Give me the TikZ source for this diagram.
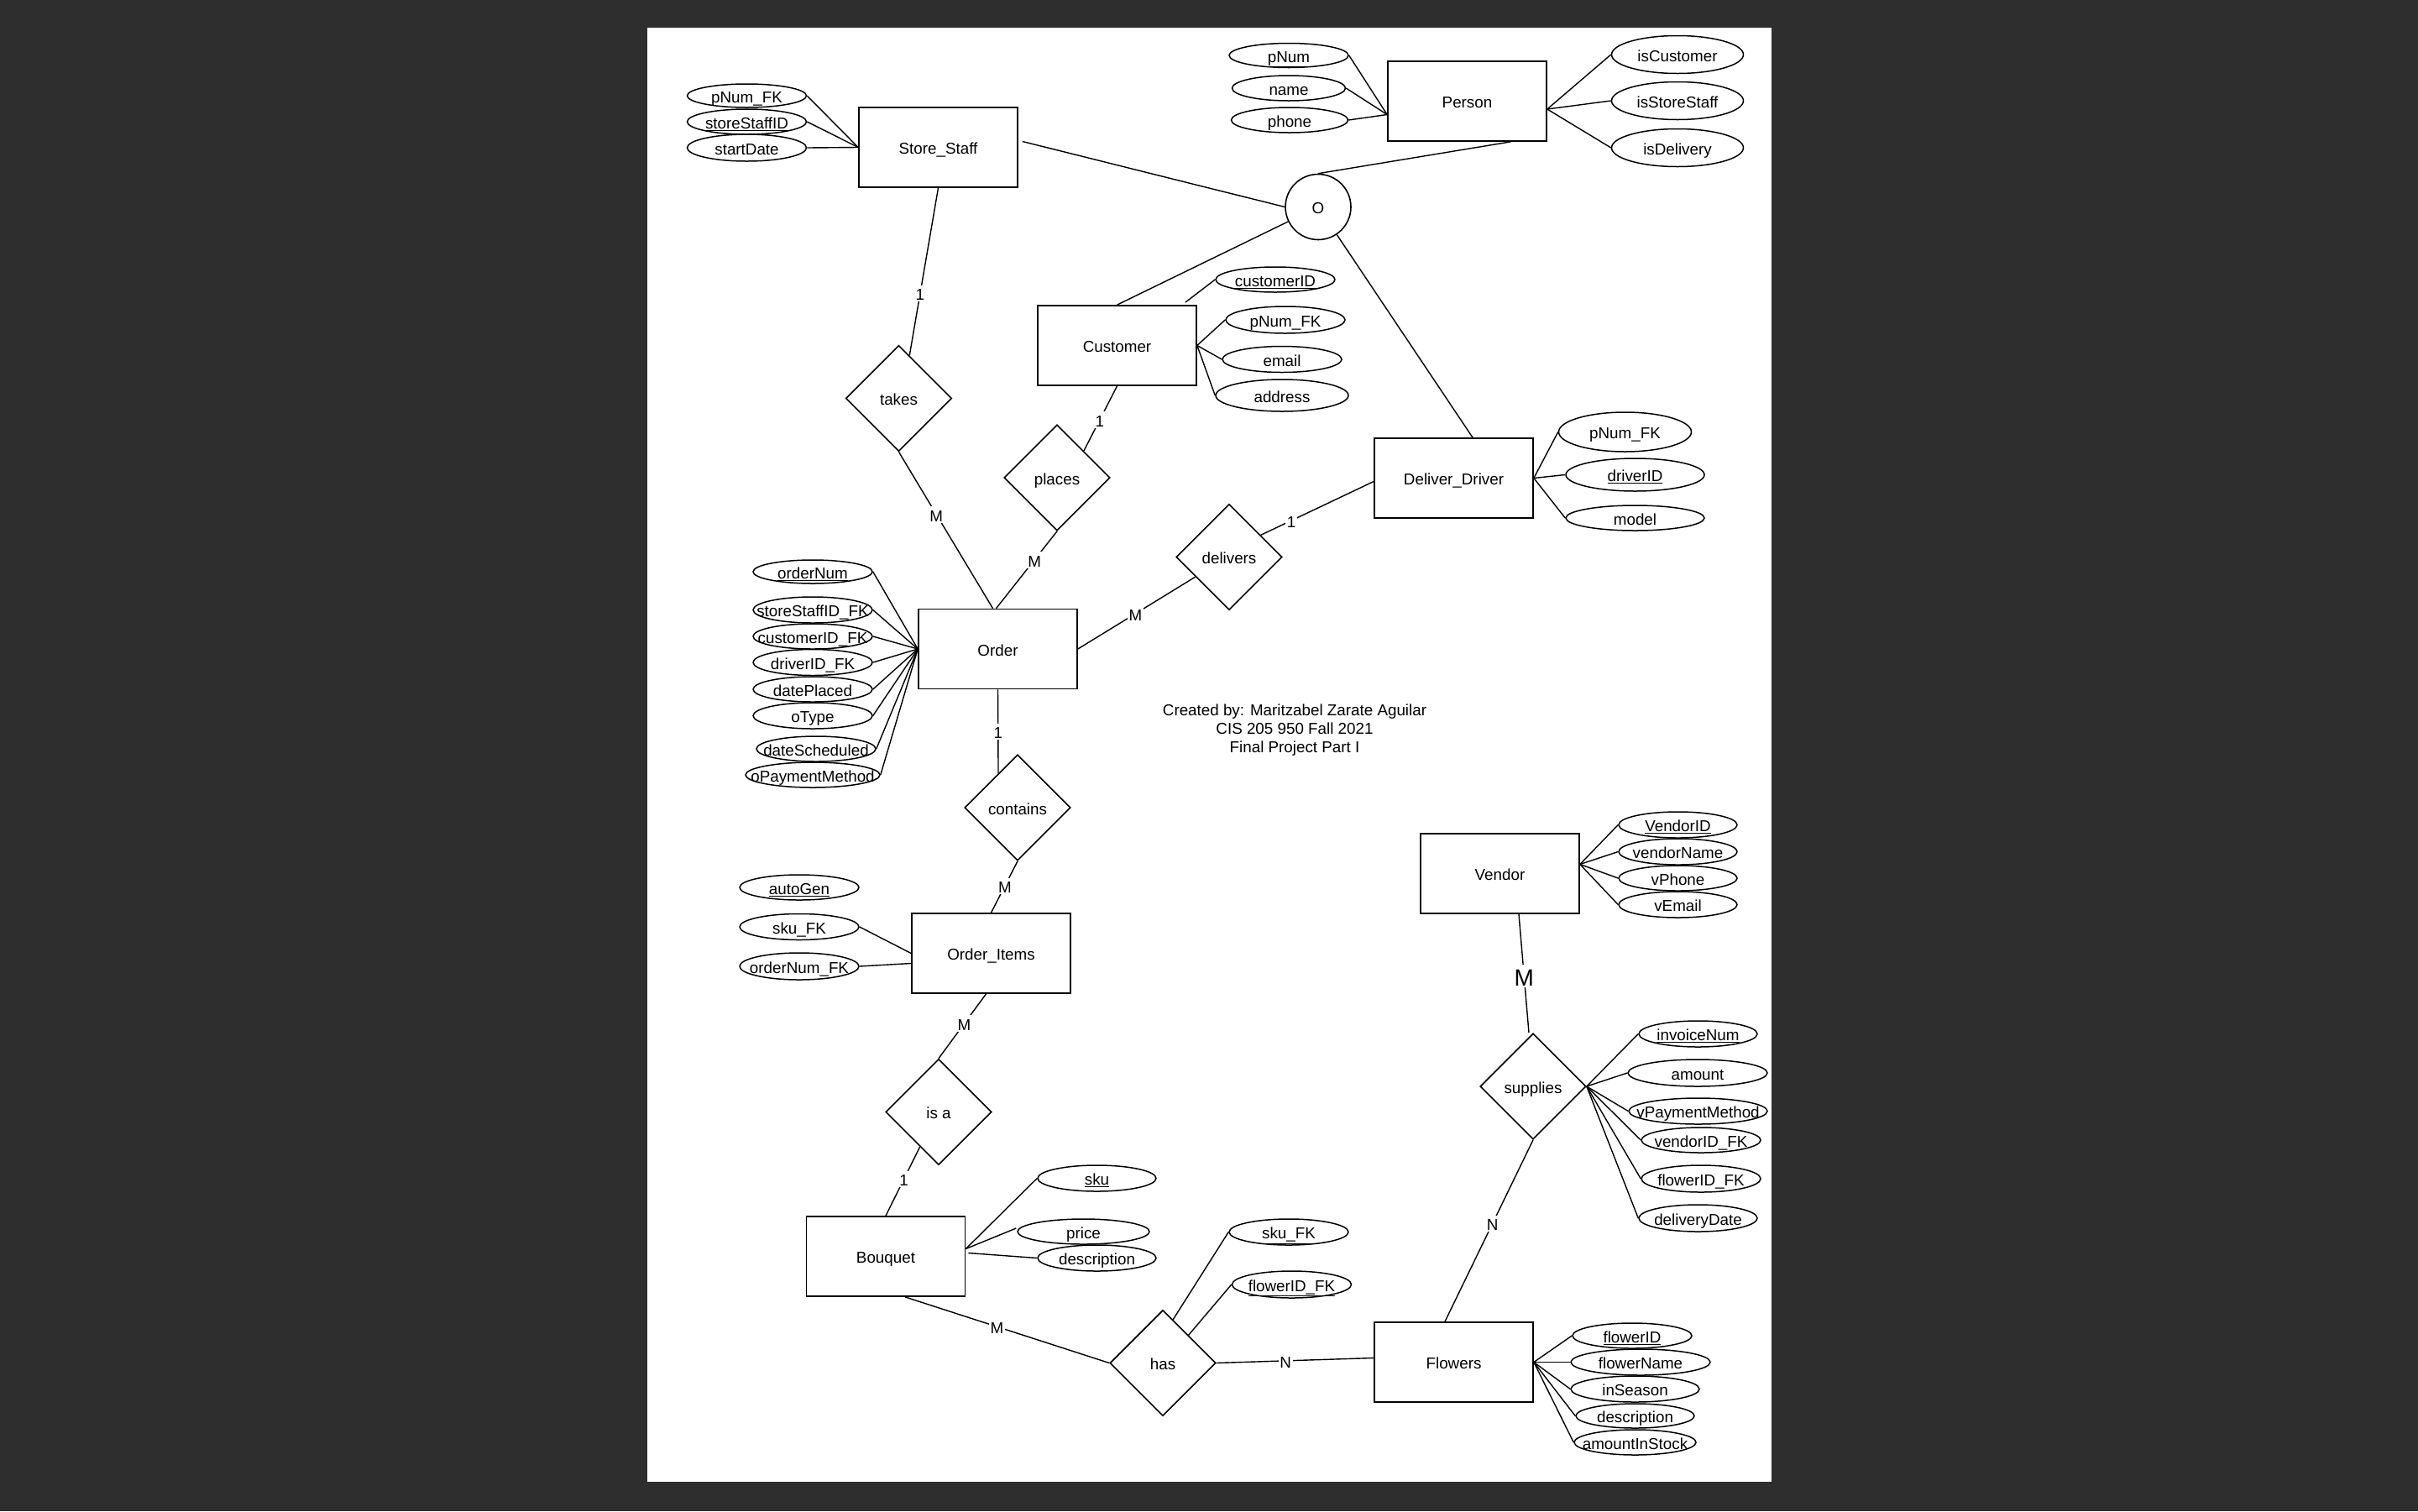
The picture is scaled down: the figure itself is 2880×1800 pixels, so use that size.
\documentclass[tikz,border=0pt]{standalone}
\usepackage{fontspec}
\setmainfont{Liberation Sans}
\usetikzlibrary{shapes.geometric,calc}
\definecolor{bgdark}{RGB}{46,46,46}
\tikzset{
  textbox/.style={text height=16.5pt, text depth=0pt},
  entity/.style={rectangle, draw, line width=1.7pt, minimum width=189pt, minimum height=95pt, inner sep=0pt, textbox},
  attr/.style={ellipse, draw, line width=1.5pt, inner sep=0pt, minimum width=142pt, minimum height=30pt, label={[textbox]center:#1}},
  rel/.style={diamond, draw, line width=1.6pt, inner sep=0pt, minimum width=126pt, minimum height=126pt, textbox},
  link/.style={line width=1.4pt},
  card/.style={fill=white, inner sep=1.5pt, textbox},
}
\begin{document}
\begin{tikzpicture}[x=1pt, y=-1pt, font=\fontsize{18.8}{22}\selectfont]
% canvas and page
\fill[bgdark] (0,0) rectangle (2880,1800);
\fill[white] (771,33) rectangle (2110,1765);

% ---------- entities ----------
\node[entity] (ss)      at (1117.5,175.5) {Store\_Staff};
\node[entity] (person)  at (1747.5,120.5) {Person};
\node[entity] (cust)    at (1330.5,411.5) {Customer};
\node[entity] (dd)      at (1731.5,569.5) {Deliver\_Driver};
\node[entity] (order)   at (1188.5,773)   {Order};
\node[entity] (oi)      at (1180.5,1135.5) {Order\_Items};
\node[entity] (bouquet) at (1055,1496.5)  {Bouquet};
\node[entity] (flowers) at (1731.5,1622.5) {Flowers};
\node[entity] (vendor)  at (1786.5,1040.5) {Vendor};

% overlapping specialisation circle
\node[circle, draw, line width=1.6pt, minimum size=78pt, inner sep=0pt, textbox] (ovl) at (1570,246.5) {O};

% ---------- relationships ----------
\node[rel] (takes)    at (1070.5,474.5) {takes};
\node[rel] (places)   at (1259,569)     {places};
\node[rel] (delivers) at (1464,663.5)   {delivers};
\node[rel] (contains) at (1212,962)     {contains};
\node[rel] (isa)      at (1118,1324.5)  {is a};
\node[rel] (has)      at (1385,1623.5)  {has};
\node[rel] (supplies) at (1826,1294)    {supplies};

% ---------- attributes ----------
% Store_Staff
\node[attr={pNum\_FK}, minimum height=28pt] (ssPnum) at (889.5,114) {};
\node[attr={\underline{storeStaffID}}] (ssId) at (889.5,145) {};
\node[attr={startDate}, minimum height=32pt] (ssStart) at (889.5,176) {};
% Person
\node[attr={\underline{pNum}}, minimum height=29pt] (pNum) at (1535,66) {};
\node[attr={name}, minimum width=135pt] (pName) at (1535,105) {};
\node[attr={phone}, minimum width=139pt] (pPhone) at (1536,143) {};
\node[attr={isCustomer}, minimum width=157pt, minimum height=45pt] (isCust) at (1998,65) {};
\node[attr={isStoreStaff}, minimum width=157pt, minimum height=45pt] (isStaff) at (1998,120) {};
\node[attr={isDelivery}, minimum width=157pt, minimum height=45pt] (isDel) at (1998,176) {};
% Customer
\node[attr={\underline{customerID}}] (custId) at (1519,333) {};
\node[attr={pNum\_FK}, minimum height=32pt] (custPnum) at (1531,381) {};
\node[attr={email}, minimum height=31pt] (custEmail) at (1527,428) {};
\node[attr={address}, minimum width=158pt, minimum height=38pt] (custAddr) at (1527,471) {};
% Deliver_Driver
\node[attr={pNum\_FK}, minimum width=158pt, minimum height=47pt] (ddPnum) at (1935.5,514.5) {};
\node[attr={\underline{driverID}}, minimum width=165pt, minimum height=39pt] (ddId) at (1947.5,565.5) {};
\node[attr={model}, minimum width=165pt] (ddModel) at (1947.5,617) {};
% Order
\node[attr={\underline{orderNum}}, minimum height=28pt] (oNum) at (968,681) {};
\node[attr={storeStaffID\_FK}, minimum height=31pt] (oStaff) at (968,726.5) {};
\node[attr={customerID\_FK}] (oCust) at (968,758) {};
\node[attr={driverID\_FK}, minimum height=31pt] (oDriver) at (968,789) {};
\node[attr={datePlaced}] (oPlaced) at (968,821) {};
\node[attr={oType}, minimum height=31pt] (oType) at (968,852.5) {};
\node[attr={dateScheduled}] (oSched) at (972,892) {};
\node[attr={oPaymentMethod}, minimum width=160pt] (oPay) at (968,923) {};
% Order_Items
\node[attr={\underline{autoGen}}] (oiAuto) at (952,1057) {};
\node[attr={sku\_FK}, minimum height=31pt] (oiSku) at (952,1104) {};
\node[attr={orderNum\_FK}, minimum height=32pt] (oiOrder) at (952,1151) {};
% Bouquet
\node[attr={\underline{sku}}, minimum width=141pt, minimum height=31pt] (bSku) at (1306.5,1403.5) {};
\node[attr={price}, minimum width=157pt] (bPrice) at (1290.5,1467) {};
\node[attr={description}, minimum width=141pt, minimum height=31pt] (bDesc) at (1306.5,1498.5) {};
% has
\node[attr={\underline{sku\_FK}}, minimum height=31pt] (hSku) at (1535,1467.5) {};
\node[attr={\underline{flowerID\_FK}}, minimum height=32pt] (hFlower) at (1538.5,1530) {};
% Flowers
\node[attr={\underline{flowerID}}] (fId) at (1944,1591) {};
\node[attr={flowerName}, minimum width=166pt, minimum height=31pt] (fName) at (1954,1622.5) {};
\node[attr={inSeason}, minimum width=153pt, minimum height=31pt] (fSeason) at (1947.5,1654.5) {};
\node[attr={description}, minimum width=141pt, minimum height=29pt] (fDesc) at (1947.5,1686.5) {};
\node[attr={amountInStock}, minimum width=145pt] (fStock) at (1947.5,1718) {};
% Vendor
\node[attr={\underline{VendorID}}, minimum width=141pt, minimum height=31pt] (vId) at (1998.5,982.5) {};
\node[attr={vendorName}, minimum width=141pt, minimum height=31pt] (vName) at (1998.5,1014.5) {};
\node[attr={vPhone}, minimum width=141pt] (vPhone) at (1998.5,1046) {};
\node[attr={vEmail}, minimum width=141pt, minimum height=31pt] (vEmail) at (1998.5,1077.5) {};
% supplies
\node[attr={\underline{invoiceNum}}, minimum width=141pt, minimum height=31pt] (sInv) at (2022.5,1231.5) {};
\node[attr={amount}, minimum width=166pt, minimum height=32pt] (sAmt) at (2022,1278) {};
\node[attr={vPaymentMethod}, minimum width=165pt, minimum height=31pt] (sPay) at (2022.5,1323.5) {};
\node[attr={vendorID\_FK}] (sVendor) at (2026,1358) {};
\node[attr={flowerID\_FK}, minimum height=32pt] (sFlower) at (2026,1404) {};
\node[attr={deliveryDate}, minimum width=141pt, minimum height=32pt] (sDate) at (2022.5,1451) {};

% ---------- attribute links ----------
\foreach \a in {ssPnum,ssId,ssStart} \draw[link] (\a.east) -- (ss.west);
\foreach \a in {pNum,pName,pPhone} \draw[link] (\a.east) -- ($(person.west)+(0,16)$);
\foreach \a in {isCust,isStaff,isDel} \draw[link] (\a.west) -- ($(person.east)+(0,9.5)$);
\draw[link] (custId.west) -- ($(cust.north east)+(-14,-3)$);
\foreach \a in {custPnum,custEmail,custAddr} \draw[link] (\a.west) -- (cust.east);
\foreach \a in {ddPnum,ddId,ddModel} \draw[link] (\a.west) -- (dd.east);
\foreach \a in {oNum,oStaff,oCust,oDriver,oPlaced,oType,oSched,oPay} \draw[link] (\a.east) -- (order.west);
\draw[link] (oiSku.east) -- (oi.west);
\draw[link] (oiOrder.east) -- ($(oi.west)+(0,12)$);
\draw[link] (bSku.west) -- ($(bouquet.east)+(0,-9)$);
\draw[link] ($(bPrice.west)+(-1,-4)$) -- ($(bouquet.east)+(0,-9)$);
\draw[link] (bDesc.west) -- ($(bouquet.east)+(3,-4)$);
\draw[link] (hSku.west) -- ($(has.north)!0.19!(has.east)$);
\draw[link] (hFlower.west) -- ($(has.north)!0.48!(has.east)$);
\foreach \a in {fId,fName,fSeason,fDesc,fStock} \draw[link] (\a.west) -- (flowers.east);
\foreach \a in {vId,vName,vPhone,vEmail} \draw[link] (\a.west) -- ($(vendor.east)+(0,-11)$);
\foreach \a in {sInv,sAmt,sPay,sVendor,sFlower,sDate} \draw[link] (\a.west) -- (supplies.east);

% ---------- specialisation ----------
\draw[link] ($(person.south)+(52,0)$) -- (ovl.north);
\draw[link] ($(ss.east)+(5,-7)$) -- (ovl.west);
\draw[link] (ovl.206) -- (cust.north);
\draw[link] (ovl.-56) -- ($(dd.north)+(22.5,0)$);

% ---------- relationship links with cardinalities ----------
\draw[link] (ss.south) -- node[card, pos=0.63] {1} ($(takes.north)!0.2!(takes.east)$);
\draw[link] (takes.south) -- node[card, pos=0.4] {M} ($(order.north)+(-6,0)$);
\draw[link] (cust.south) -- node[card, pos=0.52] {1} ($(places.north)!0.5!(places.east)$);
\draw[link] (places.south) -- node[card, pos=0.37] {M} ($(order.north)+(-2,0)$);
\draw[link] (order.east) -- node[card, pos=0.49] {M} ($(delivers.west)!0.37!(delivers.south)$);
\draw[link] ($(delivers.north)!0.59!(delivers.east)$) -- node[card, pos=0.27] {1} ($(dd.west)+(0,4)$);
\draw[link] (order.south) -- node[card, pos=0.5] {1} ($(contains.north)!0.36!(contains.west)$);
\draw[link] (contains.south) -- node[card, pos=0.48] {M} (oi.north);
\draw[link] ($(oi.south)+(-6,0)$) -- node[card, pos=0.46] {M} (isa.north);
\draw[link] ($(isa.west)!0.65!(isa.south)$) -- node[card, pos=0.47] {1} (bouquet.north);
\draw[link] ($(bouquet.south)+(23,0)$) -- node[card, pos=0.45] {M} (has.west);
\draw[link] (has.east) -- node[card, pos=0.44] {N} ($(flowers.west)+(0,-5)$);
\draw[link] ($(vendor.south)+(22.5,0)$) -- node[card, pos=0.52, font=\fontsize{28}{32}\selectfont, text height=24pt] {M} ($(supplies.north)+(-5,0)$);
\draw[link] (supplies.south) -- node[card, pos=0.46] {N} ($(flowers.north)+(-10.5,0)$);

% ---------- credits ----------
\node[align=center] (credit) at (1542,870) {Created by: Maritzabel Zarate Aguilar\\CIS 205 950 Fall 2021\\Final Project Part I};
\end{tikzpicture}
\end{document}
